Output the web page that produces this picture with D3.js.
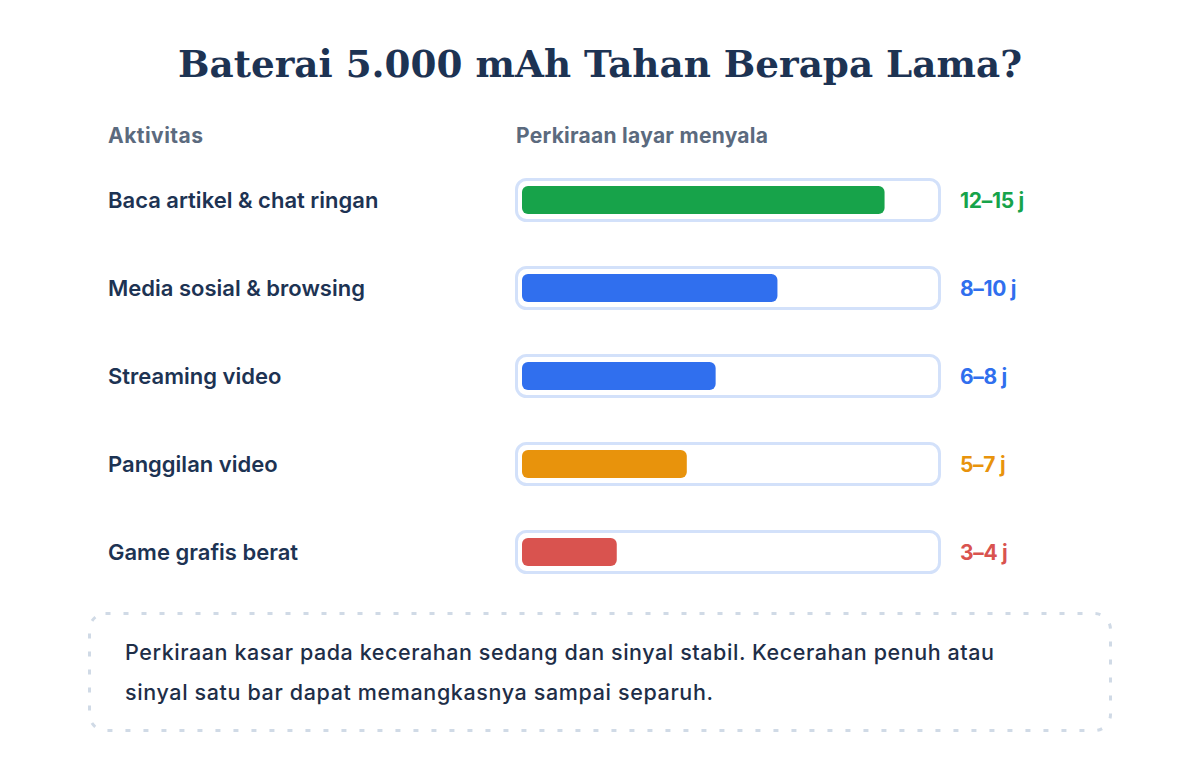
<!DOCTYPE html>
<html><head><meta charset="utf-8">
<script src="https://cdn.jsdelivr.net/npm/d3@7/dist/d3.min.js"></script>
<style>
body{margin:0;background:#fff;}
svg{display:block;font-family:Inter,"Noto Sans",sans-serif;}
</style></head>
<body><svg id="c" width="1200" height="760"></svg>
<script>
const activities = ["Baca artikel & chat ringan","Media sosial & browsing","Streaming video","Panggilan video","Game grafis berat"];
const rangeLabels = ["12–15 j","8–10 j","6–8 j","5–7 j","3–4 j"];
const barHours = [13.2, 9.3, 7.05, 6.0, 3.45];
const barColors = ["#17a34a","#306fee","#306fee","#e8930c","#d9534f"];
const maxHours = 15;
const noteLines = ["Perkiraan kasar pada kecerahan sedang dan sinyal stabil. Kecerahan penuh atau",
  "sinyal satu bar dapat memangkasnya sampai separuh."];

const svg = d3.select("#c");
const navy = "#1d3353";

svg.append("text").attr("x",600).attr("y",77).attr("text-anchor","middle")
  .attr("font-family","'DejaVu Serif','Liberation Serif',serif").attr("font-weight",700)
  .attr("font-size",38).attr("fill",navy)
  .attr("textLength",844).attr("lengthAdjust","spacingAndGlyphs")
  .text("Baterai 5.000 mAh Tahan Berapa Lama?");

svg.append("text").attr("x",108).attr("y",143).attr("font-size",21).attr("font-weight",700)
  .attr("fill","#5b6a7e").attr("textLength",95).attr("lengthAdjust","spacing").text("Aktivitas");
svg.append("text").attr("x",516).attr("y",143).attr("font-size",21).attr("font-weight",700)
  .attr("fill","#5b6a7e").attr("textLength",252).attr("lengthAdjust","spacing").text("Perkiraan layar menyala");

const y = d3.scaleBand().domain(activities).range([156,596]).paddingInner(0);
const x = d3.scaleLinear().domain([0,maxHours]).range([0,412]);

const rows = svg.selectAll("g.row").data(activities).join("g").attr("class","row")
  .attr("transform",d=>`translate(0,${y(d)+y.bandwidth()/2})`);

rows.append("text").attr("x",108).attr("y",8).attr("font-size",22).attr("font-weight",600)
  .attr("fill",navy).text(d=>d);

rows.append("rect").attr("x",516.5).attr("y",-20.5).attr("width",423).attr("height",41)
  .attr("rx",10).attr("fill","#fff").attr("stroke","#d3e1fa").attr("stroke-width",3);

rows.append("rect").attr("x",522).attr("y",-14).attr("height",28).attr("rx",6)
  .attr("width",(d,i)=>x(barHours[i])).attr("fill",(d,i)=>barColors[i]);

rows.append("text").attr("x",960).attr("y",8).attr("font-size",21).attr("font-weight",700)
  .attr("letter-spacing",-0.3)
  .attr("fill",(d,i)=>barColors[i]).text((d,i)=>rangeLabels[i]);

svg.append("rect").attr("x",89.5).attr("y",613.5).attr("width",1021).attr("height",117)
  .attr("rx",16).attr("fill","none").attr("stroke","#d0dae6").attr("stroke-width",3)
  .attr("stroke-dasharray","5 13");

const noteW = [869, 588];
svg.selectAll("text.note").data(noteLines).join("text").attr("class","note")
  .attr("x",125).attr("y",(d,i)=>660+i*40).attr("font-size",21.5).attr("font-weight",500)
  .attr("textLength",(d,i)=>noteW[i]).attr("lengthAdjust","spacing")
  .attr("fill","#1e2e48").text(d=>d);
</script></body></html>
